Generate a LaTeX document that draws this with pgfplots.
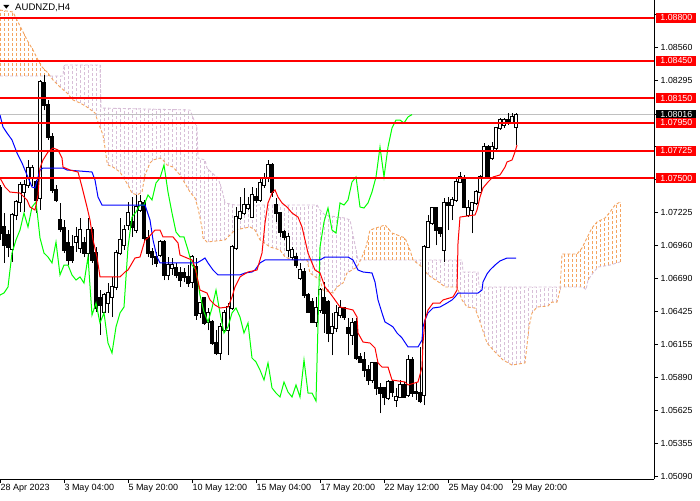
\documentclass[border=0pt]{standalone}
\usepackage{fontspec}
\setmainfont{Liberation Sans}
\usepackage{pgfplots}
\pgfplotsset{compat=1.18}
\usepackage{pgfplotstable}
\definecolor{sandy}{HTML}{F4A460}
\definecolor{thist}{HTML}{D8BFD8}
\definecolor{mtgreen}{HTML}{00FF00}
\definecolor{mtred}{HTML}{FF0000}
\definecolor{mtblue}{HTML}{0000FF}
\definecolor{pricegrey}{HTML}{C0C0C0}

\pgfplotstableread{
j o h l c
0 1.07423 1.07447 1.07003 1.07059
1 1.07108 1.07221 1.06817 1.06962
2 1.07043 1.07083 1.06865 1.06946
3 1.06930 1.07221 1.06825 1.07205
4 1.07205 1.07326 1.07164 1.07310
5 1.07310 1.07471 1.07229 1.07447
6 1.07390 1.07487 1.07229 1.07447
7 1.07447 1.07649 1.07423 1.07584
8 1.07504 1.07609 1.07439 1.07584
9 1.07471 1.07487 1.07221 1.07326
10 1.07342 1.08296 1.07245 1.08279
11 1.08271 1.08336 1.08053 1.08094
12 1.08094 1.08134 1.07811 1.07835
13 1.07835 1.07867 1.07382 1.07407
14 1.07407 1.07447 1.07310 1.07326
15 1.07164 1.07302 1.07067 1.07091
16 1.07100 1.07164 1.06897 1.06922
17 1.06978 1.07083 1.06800 1.06841
18 1.06946 1.07043 1.06817 1.06841
19 1.06986 1.07108 1.06906 1.07027
20 1.06938 1.07180 1.06897 1.07083
21 1.06978 1.07027 1.06865 1.06897
22 1.06897 1.07180 1.06817 1.07083
23 1.07083 1.07108 1.06817 1.06841
24 1.06897 1.06946 1.06421 1.06453
25 1.06534 1.06598 1.06235 1.06477
26 1.06421 1.06574 1.06413 1.06558
27 1.06493 1.06655 1.06413 1.06574
28 1.06542 1.06704 1.06380 1.06623
29 1.06623 1.06922 1.06598 1.06897
30 1.06897 1.07180 1.06881 1.07003
31 1.06962 1.07124 1.06922 1.07083
32 1.07124 1.07310 1.07083 1.07221
33 1.07148 1.07350 1.07027 1.07108
34 1.07083 1.07366 1.07059 1.07269
35 1.07245 1.07366 1.07229 1.07310
36 1.07302 1.07326 1.06986 1.07019
37 1.07019 1.07083 1.06865 1.06897
38 1.06906 1.06938 1.06800 1.06865
39 1.06865 1.06906 1.06784 1.06817
40 1.06881 1.07003 1.06865 1.06986
41 1.06986 1.07003 1.06679 1.06720
42 1.06720 1.06865 1.06679 1.06800
43 1.06776 1.06857 1.06720 1.06800
44 1.06776 1.06817 1.06695 1.06720
45 1.06736 1.06784 1.06623 1.06679
46 1.06736 1.06776 1.06663 1.06704
47 1.06704 1.06800 1.06623 1.06655
48 1.06663 1.06881 1.06615 1.06865
49 1.06784 1.06857 1.06356 1.06396
50 1.06413 1.06501 1.06372 1.06493
51 1.06534 1.06542 1.06316 1.06332
52 1.06340 1.06453 1.06275 1.06413
53 1.06340 1.06356 1.06154 1.06170
54 1.06170 1.06275 1.06073 1.06089
55 1.06089 1.06332 1.06033 1.06300
56 1.06275 1.06437 1.06259 1.06413
57 1.06275 1.06493 1.06073 1.06461
58 1.06453 1.06962 1.06437 1.06946
59 1.06938 1.07269 1.06922 1.07188
60 1.07180 1.07350 1.07164 1.07229
61 1.07221 1.07423 1.07205 1.07285
62 1.07261 1.07350 1.07245 1.07285
63 1.07188 1.07431 1.07180 1.07366
64 1.07350 1.07423 1.07302 1.07326
65 1.07326 1.07512 1.07310 1.07463
66 1.07447 1.07544 1.07423 1.07504
67 1.07504 1.07649 1.07471 1.07609
68 1.07609 1.07625 1.07350 1.07390
69 1.07285 1.07342 1.07148 1.07221
70 1.07221 1.07229 1.07027 1.07067
71 1.07067 1.07083 1.07003 1.07027
72 1.06922 1.07059 1.06865 1.07027
73 1.06865 1.06946 1.06841 1.06922
74 1.06865 1.06897 1.06776 1.06800
75 1.06695 1.06817 1.06679 1.06760
76 1.06744 1.06776 1.06534 1.06558
77 1.06558 1.06574 1.06413 1.06421
78 1.06501 1.06534 1.06332 1.06340
79 1.06340 1.06542 1.06300 1.06453
80 1.06437 1.06615 1.06413 1.06598
81 1.06534 1.06663 1.06251 1.06413
82 1.06501 1.06518 1.06178 1.06251
83 1.06251 1.06413 1.06073 1.06300
84 1.06291 1.06477 1.06259 1.06413
85 1.06396 1.06518 1.06372 1.06453
86 1.06453 1.06461 1.06356 1.06380
87 1.06291 1.06372 1.06073 1.06251
88 1.06235 1.06372 1.06154 1.06332
89 1.06340 1.06372 1.06033 1.06049
90 1.06057 1.06089 1.06009 1.06017
91 1.06033 1.06097 1.05895 1.05952
92 1.05952 1.05992 1.05831 1.05871
93 1.05871 1.06017 1.05847 1.06009
94 1.06009 1.06017 1.05750 1.05807
95 1.05807 1.05847 1.05604 1.05766
96 1.05807 1.05815 1.05669 1.05734
97 1.05726 1.05871 1.05710 1.05855
98 1.05855 1.05871 1.05734 1.05774
99 1.05710 1.05807 1.05653 1.05734
100 1.05734 1.05871 1.05726 1.05831
101 1.05831 1.05855 1.05726 1.05734
102 1.05750 1.06073 1.05734 1.06033
103 1.06033 1.06057 1.05734 1.05766
104 1.05774 1.05847 1.05710 1.05766
105 1.05766 1.06138 1.05685 1.05701
106 1.05750 1.06962 1.05669 1.06946
107 1.06946 1.07205 1.06938 1.07148
108 1.07140 1.07269 1.07124 1.07261
109 1.07261 1.07269 1.06962 1.07083
110 1.07100 1.07108 1.07027 1.07059
111 1.06922 1.07342 1.06825 1.07302
112 1.07302 1.07350 1.07083 1.07285
113 1.07285 1.07350 1.07164 1.07326
114 1.07326 1.07512 1.07310 1.07471
115 1.07471 1.07552 1.07463 1.07512
116 1.07504 1.07528 1.07261 1.07269
117 1.07205 1.07326 1.07188 1.07261
118 1.07245 1.07310 1.07059 1.07302
119 1.07302 1.07407 1.07285 1.07390
120 1.07390 1.07528 1.07382 1.07512
121 1.07512 1.07786 1.07504 1.07754
122 1.07754 1.07770 1.07504 1.07512
123 1.07665 1.07795 1.07649 1.07754
124 1.07746 1.07916 1.07730 1.07908
125 1.07908 1.07988 1.07892 1.07972
126 1.07932 1.07988 1.07908 1.07972
127 1.07972 1.08029 1.07932 1.07948
128 1.07956 1.08029 1.07948 1.07997
129 1.07916 1.08029 1.07770 1.08016
}\candles

\pgfplotstableread{
j a b
0 1.08861 1.08328
1 1.08856 1.08328
2 1.08851 1.08328
3 1.08846 1.08328
4 1.08796 1.08328
5 1.08732 1.08328
6 1.08668 1.08328
7 1.08605 1.08328
8 1.08551 1.08328
9 1.08489 1.08328
10 1.08429 1.08328
11 1.08385 1.08328
12 1.08349 1.08328
13 1.08307 1.08328
14 1.08272 1.08328
15 1.08239 1.08328
16 1.08212 1.08417
17 1.08183 1.08417
18 1.08144 1.08417
19 1.08124 1.08417
20 1.08110 1.08417
21 1.08091 1.08417
22 1.08071 1.08417
23 1.08047 1.08417
24 1.08005 1.08417
25 1.07914 1.08417
26 1.07799 1.08069
27 1.07609 1.08069
28 1.07595 1.08069
29 1.07575 1.08069
30 1.07552 1.08069
31 1.07499 1.08069
32 1.07447 1.08069
33 1.07382 1.08069
34 1.07369 1.08069
35 1.07380 1.08069
36 1.07482 1.08065
37 1.07586 1.08065
38 1.07641 1.08065
39 1.07656 1.08065
40 1.07665 1.08065
41 1.07639 1.08060
42 1.07606 1.08060
43 1.07595 1.08060
44 1.07565 1.08060
45 1.07528 1.08060
46 1.07473 1.08058
47 1.07418 1.08055
48 1.07371 1.08013
49 1.07315 1.07929
50 1.07181 1.07661
51 1.07011 1.07651
52 1.06987 1.07576
53 1.06991 1.07544
54 1.06995 1.07517
55 1.06998 1.07455
56 1.07002 1.07337
57 1.07027 1.07295
58 1.07059 1.07290
59 1.07085 1.07285
60 1.07092 1.07285
61 1.07098 1.07285
62 1.07105 1.07285
63 1.07098 1.07285
64 1.07067 1.07285
65 1.07003 1.07285
66 1.06980 1.07285
67 1.06957 1.07285
68 1.06941 1.07285
69 1.06932 1.07285
70 1.06922 1.07285
71 1.06876 1.07285
72 1.06856 1.07285
73 1.06843 1.07285
74 1.06841 1.07285
75 1.06841 1.07285
76 1.06841 1.07285
77 1.06806 1.07285
78 1.06725 1.07285
79 1.06702 1.07285
80 1.06679 1.07245
81 1.06596 1.07213
82 1.06586 1.07202
83 1.06576 1.07193
84 1.06611 1.07188
85 1.06639 1.07185
86 1.06675 1.07181
87 1.06747 1.07170
88 1.06766 1.07067
89 1.06779 1.06921
90 1.06833 1.06841
91 1.06906 1.06841
92 1.07015 1.06841
93 1.07089 1.06841
94 1.07100 1.06841
95 1.07110 1.06841
96 1.07121 1.06841
97 1.07096 1.06841
98 1.07059 1.06841
99 1.07047 1.06841
100 1.07035 1.06841
101 1.07022 1.06841
102 1.06961 1.06841
103 1.06868 1.06841
104 1.06822 1.06841
105 1.06797 1.06841
106 1.06755 1.06841
107 1.06720 1.06841
108 1.06698 1.06841
109 1.06677 1.06841
110 1.06655 1.06841
111 1.06629 1.06841
112 1.06623 1.06841
113 1.06623 1.06841
114 1.06623 1.06841
115 1.06560 1.06841
116 1.06495 1.06744
117 1.06460 1.06744
118 1.06456 1.06744
119 1.06430 1.06744
120 1.06340 1.06623
121 1.06243 1.06623
122 1.06152 1.06623
123 1.06124 1.06623
124 1.06089 1.06623
125 1.06057 1.06623
126 1.06029 1.06623
127 1.06010 1.06623
128 1.05992 1.06623
129 1.05997 1.06623
130 1.06002 1.06623
131 1.06008 1.06623
132 1.06227 1.06623
133 1.06413 1.06623
134 1.06451 1.06623
135 1.06464 1.06623
136 1.06466 1.06623
137 1.06469 1.06623
138 1.06501 1.06623
139 1.06501 1.06623
140 1.06598 1.06623
141 1.06889 1.06623
142 1.06889 1.06623
143 1.06889 1.06623
144 1.06889 1.06623
145 1.06918 1.06623
146 1.06970 1.06608
147 1.07035 1.06679
148 1.07100 1.06724
149 1.07138 1.06765
150 1.07160 1.06787
151 1.07176 1.06793
152 1.07209 1.06798
153 1.07251 1.06808
154 1.07290 1.06817
155 1.07310 1.06825
}\cloud

\pgfplotstableread{
j p
0 1.07504
1.25 1.07431
2.5 1.07390
5 1.07382
6.75 1.07326
7.5 1.07269
8.75 1.07245
9.5 1.07366
10 1.07584
10.75 1.07649
12 1.07714
13.25 1.07746
14.5 1.07730
15.5 1.07665
15.75 1.07592
17.5 1.07568
19.5 1.07552
20.5 1.07431
21.75 1.07269
22.5 1.07164
23.25 1.07003
24.25 1.06865
25 1.06704
30 1.06704
31.25 1.06744
32 1.06760
33.75 1.06857
35 1.06865
36.25 1.07003
37 1.07019
38.75 1.07083
40 1.07083
40.75 1.07027
43.25 1.07027
44.5 1.06978
45 1.06881
46.75 1.06857
48 1.06841
48.75 1.06784
49.25 1.06704
50 1.06598
51.75 1.06574
52.5 1.06518
53.75 1.06477
55 1.06453
57 1.06461
58 1.06542
58.75 1.06623
60 1.06704
60.75 1.06720
62 1.06744
64.25 1.06760
65.5 1.06897
66.25 1.07140
67 1.07302
68 1.07382
68.75 1.07407
69.5 1.07350
70.5 1.07302
71.75 1.07269
73 1.07221
74.5 1.07188
75.5 1.07108
76.25 1.07003
77 1.06897
78 1.06817
78.75 1.06760
80 1.06736
81.25 1.06623
82.5 1.06574
83.75 1.06518
85 1.06461
88.25 1.06437
89.25 1.06380
89.5 1.06251
90.75 1.06178
92.5 1.06170
93.75 1.06130
94.5 1.06009
95.5 1.05976
97 1.05976
98 1.05871
101.25 1.05855
102 1.05831
104.5 1.05855
105.5 1.05976
105.75 1.06170
106.25 1.06356
107 1.06437
108.25 1.06493
110 1.06493
110.75 1.06518
113.25 1.06542
114.25 1.06598
114.5 1.06978
115 1.07188
118.75 1.07205
119.25 1.07245
120 1.07350
120.75 1.07423
122 1.07471
123.25 1.07512
125 1.07528
126.25 1.07592
126.75 1.07633
128 1.07649
128.75 1.07714
129.25 1.07770
}\tenkan

\pgfplotstableread{
j p
0 1.08013
0.75 1.07916
1.75 1.07867
3 1.07811
4.25 1.07706
5.5 1.07625
6.75 1.07528
8 1.07431
8.75 1.07423
10 1.07568
10.75 1.07584
15.75 1.07584
16.75 1.07568
23 1.07552
23.75 1.07487
24.5 1.07350
25.5 1.07285
36.25 1.07285
37.5 1.07164
38.25 1.07003
39.25 1.06865
40 1.06817
49.25 1.06817
50.5 1.06841
51.25 1.06857
52 1.06817
53.25 1.06760
54.5 1.06720
60 1.06720
61.25 1.06736
63 1.06744
63.75 1.06760
65 1.06817
66.25 1.06841
80 1.06841
81.25 1.06865
87 1.06865
88.25 1.06841
89.5 1.06760
90.75 1.06744
93 1.06736
93.75 1.06663
94.5 1.06518
95.5 1.06413
96.25 1.06340
97.5 1.06316
98.25 1.06300
99.25 1.06251
100.5 1.06211
102 1.06138
104.5 1.06138
105.5 1.06194
105.75 1.06300
106.25 1.06356
107 1.06413
108.25 1.06453
110 1.06461
111.75 1.06493
113 1.06518
113.75 1.06542
114.5 1.06574
119.5 1.06574
120.5 1.06598
120.75 1.06663
121.75 1.06728
122.5 1.06760
123.75 1.06800
125 1.06833
126.75 1.06857
129 1.06857
}\kijun

\pgfplotstableread{
j p
0 1.08861
3.25 1.08845
4.25 1.08780
5.5 1.08700
6.75 1.08619
8.25 1.08538
9.5 1.08457
10.5 1.08401
11.75 1.08360
13.25 1.08296
15 1.08239
16.75 1.08191
18.25 1.08134
20 1.08110
21.75 1.08077
23.75 1.08029
24.5 1.07956
25.75 1.07851
26.25 1.07746
26.75 1.07633
27 1.07609
28.25 1.07592
30 1.07552
30.75 1.07512
32 1.07447
33 1.07382
34.25 1.07366
35.5 1.07390
36.25 1.07528
37.5 1.07625
38.25 1.07649
40 1.07665
40.75 1.07649
41.75 1.07609
43.25 1.07592
45 1.07528
45.75 1.07487
47.5 1.07390
48.75 1.07342
49.5 1.07261
50.5 1.07100
50.75 1.07019
51.75 1.06986
56.25 1.07003
57 1.07027
58.75 1.07083
62.5 1.07108
63.75 1.07083
65 1.07003
67.5 1.06946
70 1.06922
71.25 1.06865
73.25 1.06841
76.75 1.06841
77.5 1.06736
80 1.06679
80.75 1.06598
83.25 1.06574
84.25 1.06623
85.75 1.06655
86.75 1.06736
89.25 1.06784
90.5 1.06865
91.5 1.06946
92.5 1.07083
96.25 1.07124
98 1.07059
101.25 1.07019
102.5 1.06922
103.25 1.06841
105.5 1.06784
107 1.06720
110 1.06655
111.25 1.06623
114.25 1.06623
115.5 1.06518
116.75 1.06461
118.75 1.06453
120 1.06340
121.75 1.06170
123.75 1.06097
125.75 1.06033
128 1.05992
131.25 1.06009
131.75 1.06154
132.25 1.06300
133 1.06413
134.25 1.06461
137 1.06469
138 1.06501
139.25 1.06501
140 1.06598
140.5 1.06889
144.25 1.06889
145.5 1.06938
146.75 1.07019
148 1.07100
149.25 1.07148
151.25 1.07180
152.5 1.07229
153.75 1.07285
155 1.07310
}\spanA

\pgfplotstableread{
j p
0 1.08328
15.75 1.08328
16 1.08417
25 1.08417
25.25 1.08069
47.5 1.08053
48 1.08013
49.25 1.07908
49.5 1.07665
51.25 1.07649
51.75 1.07584
53 1.07544
54.5 1.07504
55.5 1.07407
56.25 1.07302
58.75 1.07285
79.25 1.07285
80 1.07245
81.25 1.07205
84.25 1.07188
86.25 1.07180
87.5 1.07164
88.75 1.06962
89.5 1.06841
115.5 1.06841
115.75 1.06744
119.5 1.06744
119.75 1.06623
145.75 1.06623
146.5 1.06600
147 1.06679
148.25 1.06736
149.5 1.06784
152.5 1.06800
155 1.06825
}\spanB

\begin{document}
\begin{tikzpicture}
\fill[white] (0pt,0pt) rectangle (700pt,-500pt);
\begin{axis}[
  at={(0pt,0pt)}, anchor=north west,
  scale only axis, width=654pt, height=479pt,
  xmin=0, xmax=163.5, ymin=1.05071, ymax=1.08942,
  axis x line*=bottom, axis y line*=right,
  axis line style={-, black, line width=0.9pt},
  tick align=outside, major tick length=4pt,
  every tick/.style={black, line width=0.8pt},
  xtick={0,16,32,48,64,80,96,112,128},
  xticklabels={28 Apr 2023,3 May 04:00,5 May 20:00,10 May 12:00,15 May 04:00,17 May 20:00,22 May 12:00,25 May 04:00,29 May 20:00},
  xticklabel style={anchor=north west, inner xsep=0.3pt, inner ysep=1pt, font=\fontsize{9}{10}\selectfont},
  ytick={1.05090,1.05355,1.05625,1.05890,1.06155,1.06425,1.06690,1.06960,1.07225,1.07490,1.07760,1.08015,1.08295,1.08560,1.08825},
  yticklabels={1.05090,1.05355,1.05625,1.05890,1.06155,1.06425,1.06690,1.06960,1.07225,{},{},{},1.08295,1.08560,{}},
  yticklabel style={anchor=west, inner xsep=2.5pt, font=\fontsize{8.8}{10}\selectfont},
  scaled y ticks=false,
  nomark/.style={only marks, mark=*, mark size=0pt, mark options={draw=none, fill=none}},
  vbar/.style n args={3}{error bars/.cd, y dir=plus, y explicit, error mark=none,
    error bar style={line width=#1, color=#2, #3}},
]
% cloud hatching: one dotted vertical per bar between span A and span B
\addplot[restrict x to domain=0:12.5, nomark, vbar={0.9pt}{sandy}{dash pattern=on 3pt off 2pt}]
  table[x=j, y expr={min(\thisrow{a},\thisrow{b})}, y error expr={abs(\thisrow{a}-\thisrow{b})}]{\cloud};
\addplot[restrict x to domain=12.5:90.5, nomark, vbar={0.9pt}{thist}{dash pattern=on 3pt off 2pt}]
  table[x=j, y expr={min(\thisrow{a},\thisrow{b})}, y error expr={abs(\thisrow{a}-\thisrow{b})}]{\cloud};
\addplot[restrict x to domain=90.5:103.5, nomark, vbar={0.9pt}{sandy}{dash pattern=on 3pt off 2pt}]
  table[x=j, y expr={min(\thisrow{a},\thisrow{b})}, y error expr={abs(\thisrow{a}-\thisrow{b})}]{\cloud};
\addplot[restrict x to domain=103.5:140.5, nomark, vbar={0.9pt}{thist}{dash pattern=on 3pt off 2pt}]
  table[x=j, y expr={min(\thisrow{a},\thisrow{b})}, y error expr={abs(\thisrow{a}-\thisrow{b})}]{\cloud};
\addplot[restrict x to domain=140.5:155, nomark, vbar={0.9pt}{sandy}{dash pattern=on 3pt off 2pt}]
  table[x=j, y expr={min(\thisrow{a},\thisrow{b})}, y error expr={abs(\thisrow{a}-\thisrow{b})}]{\cloud};
% span lines
\addplot[sandy, line width=0.9pt, dash pattern=on 3pt off 2pt] table[x=j,y=p]{\spanA};
\addplot[thist, line width=0.9pt, dash pattern=on 3pt off 2pt] table[x=j,y=p]{\spanB};
% current price line
\addplot[pricegrey, line width=0.8pt] coordinates {(0,1.08016) (163.5,1.08016)};
% candle wicks
\addplot[nomark, vbar={1pt}{black}{}]
  table[x=j, y=l, y error expr=\thisrow{h}-\thisrow{l}]{\candles};
% candle bodies (outline / bear fill)
\addplot[nomark, vbar={3.4pt}{black}{}]
  table[x=j, y expr={min(\thisrow{o},\thisrow{c})-0.00005}, y error expr={abs(\thisrow{c}-\thisrow{o})+0.0001}]{\candles};
% bull candle interiors
\addplot[nomark, vbar={1.4pt}{white}{}]
  table[x=j, y expr={\thisrow{o}+0.00003}, y error expr={max(\thisrow{c}-\thisrow{o}-0.00006,0)}]{\candles};
% ichimoku lines
\addplot[mtgreen, line width=1pt] table[x expr=\thisrow{j}-26, y=c]{\candles};
\addplot[mtblue, line width=1pt] table[x=j,y=p]{\kijun};
\addplot[mtred, line width=1pt] table[x=j,y=p]{\tenkan};
% horizontal levels
\addplot[mtred, line width=2pt] coordinates {(0,1.08800) (163.5,1.08800)};
\addplot[mtred, line width=2pt] coordinates {(0,1.08450) (163.5,1.08450)};
\addplot[mtred, line width=2pt] coordinates {(0,1.08150) (163.5,1.08150)};
\addplot[mtred, line width=2pt] coordinates {(0,1.07950) (163.5,1.07950)};
\addplot[mtred, line width=2pt] coordinates {(0,1.07725) (163.5,1.07725)};
\addplot[mtred, line width=2pt] coordinates {(0,1.07500) (163.5,1.07500)};
\coordinate (cur) at (axis cs:163.5,1.08016);
\coordinate (r1) at (axis cs:163.5,1.08800);
\coordinate (r2) at (axis cs:163.5,1.08450);
\coordinate (r3) at (axis cs:163.5,1.08150);
\coordinate (r4) at (axis cs:163.5,1.07950);
\coordinate (r5) at (axis cs:163.5,1.07725);
\coordinate (r6) at (axis cs:163.5,1.07500);
\end{axis}
\tikzset{lvl/.style={fill=mtred, text=white, anchor=west, inner xsep=4.2pt, inner ysep=0pt, minimum height=10pt, font=\fontsize{8.8}{9}\selectfont}}
\node[lvl, fill=black] at ([xshift=2pt]cur) {1.08016};
\node[lvl] at ([xshift=2pt]r1) {1.08800};
\node[lvl] at ([xshift=2pt]r2) {1.08450};
\node[lvl] at ([xshift=2pt]r3) {1.08150};
\node[lvl] at ([xshift=2pt]r4) {1.07950};
\node[lvl] at ([xshift=2pt]r5) {1.07725};
\node[lvl] at ([xshift=2pt]r6) {1.07500};
% title
\fill[black] (3.3pt,-5pt) -- (9.3pt,-5pt) -- (6.3pt,-8.6pt) -- cycle;
\node[anchor=base west, inner sep=0pt, font=\fontsize{9.6}{10}\selectfont] at (15pt,-10.7pt) {AUDNZD,H4};
\pgfresetboundingbox
\path[use as bounding box] (0pt,0pt) rectangle (700pt,-500pt);
\end{tikzpicture}
\end{document}
